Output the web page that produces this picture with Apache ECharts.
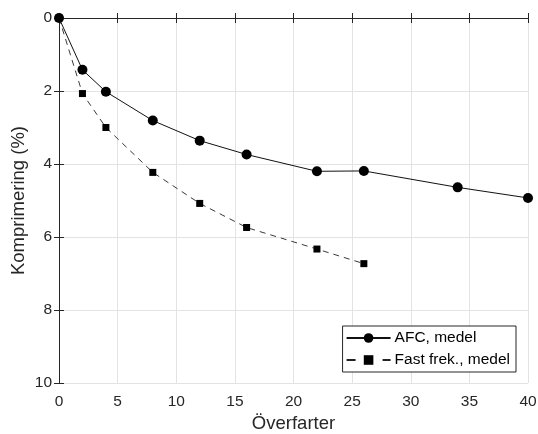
<!DOCTYPE html>
<html><head><meta charset="utf-8">
<script src="https://cdn.jsdelivr.net/npm/echarts@6/dist/echarts.min.js"></script>
<style>html,body{margin:0;padding:0;background:#fff}#c{width:538px;height:434px}</style>
</head><body><div id="c"></div>
<script>
const afcX = [0, 2, 4, 8, 12, 16, 22, 26, 34, 40];
const afcY = [0, 1.42, 2.02, 2.81, 3.36, 3.74, 4.2, 4.19, 4.64, 4.93];
const fastX = [0, 2, 4, 8, 12, 16, 22, 26];
const fastY = [0, 2.07, 3.0, 4.23, 5.08, 5.74, 6.33, 6.73];
const seriesNames = ['AFC, medel', 'Fast frek., medel'];
const xTitle = 'Överfarter';
const yTitle = 'Komprimering (%)';

const font = 'Liberation Sans, Arial, sans-serif';
const chart = echarts.init(document.getElementById('c'), null, {renderer: 'canvas'});
const axisLine = {show: true, lineStyle: {color: '#262626', width: 1}};
const split = {show: true, lineStyle: {color: '#e3e3e3', width: 1}};
const tick = {inside: true, length: 5, lineStyle: {color: '#262626'}};
chart.setOption({
  animation: false,
  grid: {left: 59, top: 18, width: 469, height: 365, containLabel: false, outerBoundsMode: 'none'},
  xAxis: [{
    type: 'value', min: 0, max: 40, interval: 5, position: 'bottom',
    axisLine: axisLine, axisTick: tick, splitLine: split,
    axisLabel: {color: '#262626', fontSize: 15.5, fontFamily: font, margin: 11},
    name: xTitle, nameLocation: 'middle', nameGap: 31, nameMoveOverlap: false,
    nameTextStyle: {color: '#262626', fontSize: 18.5, fontFamily: font}
  }, {
    type: 'value', min: 0, max: 40, interval: 5, position: 'top',
    axisLine: axisLine, axisTick: tick, splitLine: {show: false}, axisLabel: {show: false}
  }],
  yAxis: [{
    type: 'value', min: 0, max: 10, interval: 2, inverse: true, position: 'left',
    axisLine: axisLine, axisTick: tick, splitLine: split,
    axisLabel: {color: '#262626', fontSize: 15.5, fontFamily: font, margin: 7},
    name: yTitle, nameLocation: 'middle', nameGap: 31, nameRotate: 90, nameMoveOverlap: false,
    nameTextStyle: {color: '#262626', fontSize: 18.5, fontFamily: font}
  }, {
    type: 'value', min: 0, max: 10, interval: 2, inverse: true, position: 'right',
    axisLine: axisLine, axisTick: tick, splitLine: {show: false}, axisLabel: {show: false}
  }],
  legend: {
    orient: 'vertical', right: 22, bottom: 62,
    backgroundColor: '#fff', borderColor: '#262626', borderWidth: 1, borderRadius: 0,
    padding: [4, 6, 4, 3], itemGap: 6, itemWidth: 44, itemHeight: 12,
    textStyle: {color: '#000', fontSize: 15.5, fontFamily: font, lineHeight: 16, padding: [0, 0, 0, -1]},
    data: [
      {name: seriesNames[0]},
      {name: seriesNames[1], lineStyle: {type: [9, 27]}}
    ]
  },
  series: [{
    name: seriesNames[0], type: 'line',
    data: afcX.map((x, i) => [x, afcY[i]]),
    symbol: 'circle', symbolSize: 10,
    itemStyle: {color: '#000'},
    lineStyle: {color: '#111', width: 1}
  }, {
    name: seriesNames[1], type: 'line',
    data: fastX.map((x, i) => [x, fastY[i]]),
    symbol: 'rect', symbolSize: 7,
    itemStyle: {color: '#000'},
    lineStyle: {color: '#222', width: 0.9, type: [6, 5]}
  }]
});
</script></body></html>
